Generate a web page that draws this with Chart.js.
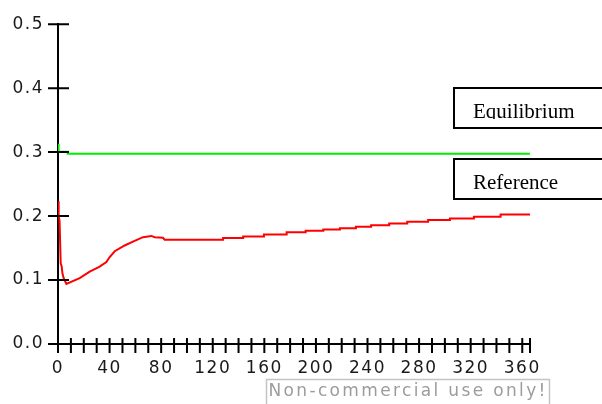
<!DOCTYPE html>
<html lang="en">
<head>
    <meta charset="UTF-8">
    <title>Equilibrium vs Reference</title>
    <script src="https://cdn.jsdelivr.net/npm/chart.js"></script>
    <style>
        body { margin: 0; background: #fff; }
        #chart-container { width: 602px; height: 404px; }
    </style>
</head>
<body>
    <div id="chart-container">
        <canvas id="lineChart" width="602" height="404"></canvas>
    </div>
    <script>
        // data
        var eqX = [0, 0.5, 7.5, 7.5, 366];
        var eqY = [0.313, 0.3005, 0.3005, 0.2975, 0.2975];

        var refX = [0, 0.5, 1.2, 2.1, 2.9, 3.4, 4.4, 6.5, 16.8, 24.6, 32.3, 37.5, 40.1, 44.0, 51.7, 58.1, 65.9, 72.4, 75, 81.4, 82.7,
                    128, 128, 143.6, 143.6, 159.7, 159.7, 177.3, 177.3, 192, 192, 205.7, 205.7, 218.6, 218.6, 231, 231,
                    242.8, 242.8, 256.8, 256.8, 270.8, 270.8, 287, 287, 303.9, 303.9, 322.5, 322.5, 343.2, 343.2, 366];
        var refY = [0.223, 0.200, 0.193, 0.126, 0.121, 0.111, 0.103, 0.094, 0.103, 0.113, 0.121, 0.128, 0.136, 0.145, 0.154, 0.160, 0.167, 0.169, 0.167, 0.166, 0.163,
                    0.163, 0.1656, 0.1656, 0.1682, 0.1682, 0.1713, 0.1713, 0.1748, 0.1748, 0.1769, 0.1769, 0.1789, 0.1789, 0.1809, 0.1809, 0.1835,
                    0.1835, 0.1855, 0.1855, 0.1885, 0.1885, 0.1911, 0.1911, 0.1937, 0.1937, 0.1962, 0.1962, 0.1988, 0.1988, 0.2023, 0.2023];

        var xMax = 366;
        var xTicks = [0, 10, 20, 30, 40, 50, 60, 70, 80, 90, 100, 110, 120, 130, 140, 150, 160, 170, 180,
                      190, 200, 210, 220, 230, 240, 250, 260, 270, 280, 290, 300, 310, 320, 330, 340, 350, 360, 366];
        var yTicks = [0, 0.1, 0.2, 0.3, 0.4, 0.5];

        function toPoints(xs, ys) {
            var pts = [];
            for (var i = 0; i < xs.length; i++) {
                pts.push({ x: xs[i], y: ys[i] });
            }
            return pts;
        }

        Chart.defaults.font.family = 'DejaVu Sans';
        Chart.defaults.font.size = 17;
        Chart.defaults.color = '#1a1a1a';

        // tick marks crossing the axes, label boxes and the watermark
        var extras = {
            id: 'extras',
            beforeDraw: function(chart) {
                chart.ctx.letterSpacing = '1.5px';
            },
            afterDraw: function(chart) {
                var ctx = chart.ctx;
                var area = chart.chartArea;
                var xs = chart.scales.x, ys = chart.scales.y;
                ctx.save();
                ctx.strokeStyle = '#000';
                ctx.lineWidth = 2;
                ctx.beginPath();
                ys.ticks.forEach(function(t) {
                    var py = ys.getPixelForValue(t.value);
                    ctx.moveTo(area.left - 10, py);
                    ctx.lineTo(area.left + 11, py);
                });
                xs.ticks.forEach(function(t) {
                    var px = xs.getPixelForValue(t.value);
                    ctx.moveTo(px, area.bottom - 6);
                    ctx.lineTo(px, area.bottom + 9);
                });
                ctx.stroke();

                // label boxes
                ctx.letterSpacing = '0px';
                ctx.font = '21px "Liberation Serif"';
                ctx.textBaseline = 'alphabetic';
                ctx.textAlign = 'left';
                var tops = [87, 158];
                chart.data.datasets.forEach(function(ds, i) {
                    var top = tops[i];
                    ctx.fillStyle = '#fff';
                    ctx.fillRect(453, top, 160, 42);
                    ctx.strokeStyle = '#000';
                    ctx.lineWidth = 2;
                    ctx.strokeRect(454, top + 1, 160, 40);
                    ctx.save();
                    ctx.beginPath();
                    ctx.rect(455, top + 2, 160, 30);
                    ctx.clip();
                    ctx.fillStyle = '#000';
                    ctx.fillText(ds.label, 473, top + 30.5);
                    ctx.restore();
                });

                // watermark
                ctx.strokeStyle = '#c4c4c4';
                ctx.lineWidth = 1.5;
                ctx.strokeRect(266.5, 379.5, 283, 40);
                ctx.fillStyle = '#9c9c9c';
                ctx.font = '17px "DejaVu Sans"';
                ctx.letterSpacing = '2.35px';
                ctx.fillText('Non-commercial use only!', 268.5, 395.5);
                ctx.restore();
            }
        };

        var ctx = document.getElementById('lineChart').getContext('2d');
        new Chart(ctx, {
            type: 'line',
            data: {
                datasets: [
                    {
                        label: 'Equilibrium',
                        data: toPoints(eqX, eqY),
                        borderColor: '#00ee00',
                        borderWidth: 2,
                        pointRadius: 0,
                        fill: false
                    },
                    {
                        label: 'Reference',
                        data: toPoints(refX, refY),
                        borderColor: '#ff0000',
                        borderWidth: 2,
                        pointRadius: 0,
                        fill: false
                    }
                ]
            },
            options: {
                responsive: false,
                animation: false,
                events: [],
                layout: { padding: { left: 0, top: 17, right: 72, bottom: 0 } },
                plugins: {
                    legend: { display: false },
                    tooltip: { enabled: false }
                },
                scales: {
                    x: {
                        type: 'linear',
                        min: 0,
                        max: xMax,
                        afterFit: function(s) { s.height = 60; },
                        afterBuildTicks: function(s) {
                            s.ticks = xTicks.map(function(v) { return { value: v }; });
                        },
                        grid: { drawOnChartArea: false, drawTicks: false },
                        border: { color: '#000', width: 2 },
                        ticks: {
                            padding: 14,
                            autoSkip: false,
                            maxRotation: 0,
                            callback: function(v) { return v % 40 === 0 ? String(v) : ''; }
                        }
                    },
                    y: {
                        min: 0,
                        max: 0.5,
                        afterFit: function(s) { s.width = 58; },
                        afterBuildTicks: function(s) {
                            s.ticks = yTicks.map(function(v) { return { value: v }; });
                        },
                        grid: { drawOnChartArea: false, drawTicks: false },
                        border: { color: '#000', width: 2 },
                        ticks: {
                            padding: 14,
                            callback: function(v) { return v.toFixed(1); }
                        }
                    }
                }
            },
            plugins: [extras]
        });
    </script>
</body>
</html>
